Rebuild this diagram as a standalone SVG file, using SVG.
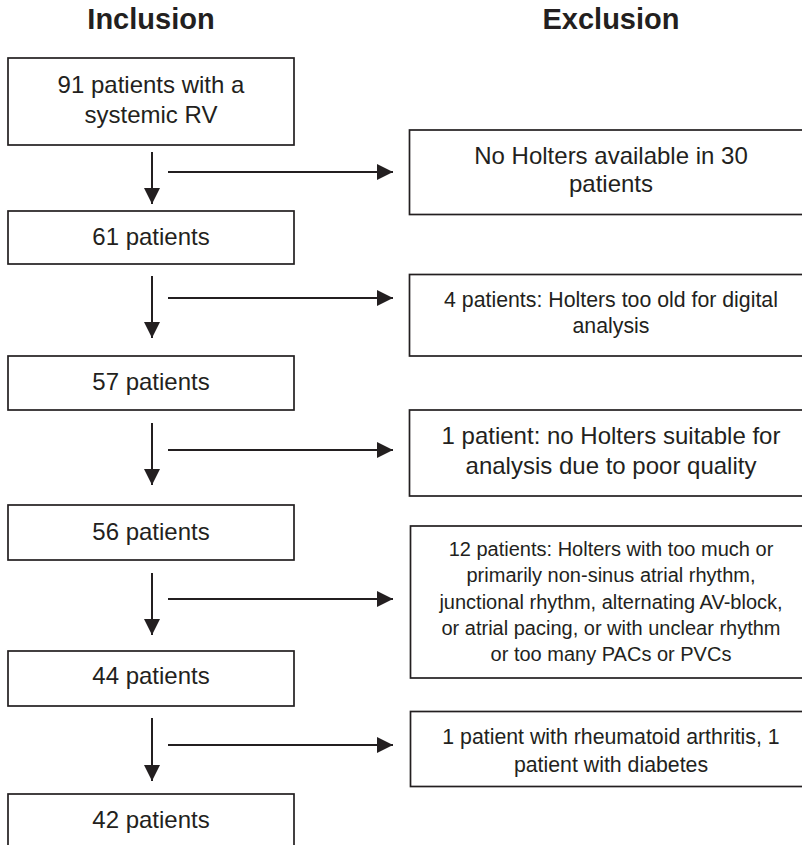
<svg xmlns="http://www.w3.org/2000/svg" width="802" height="845" viewBox="0 0 802 845">
<style>
.box{fill:#ffffff;stroke:#231f20;stroke-width:1.7}
.t{font-family:"Liberation Sans",Arial,sans-serif;fill:#231f20;text-anchor:middle}
.l{font-size:24px}
.s{font-size:21.3px}
.m{font-size:20px}
.h{font-size:29px;font-weight:bold}
.c{stroke:#231f20;stroke-width:2;fill:none;marker-end:url(#ah)}
</style>
<defs>
<marker id="ah" markerUnits="userSpaceOnUse" markerWidth="16" markerHeight="16" refX="16" refY="8" orient="auto">
<path d="M0,0 L16,8 L0,16 z" fill="#231f20"/>
</marker>
</defs>
<rect width="802" height="845" fill="#ffffff"/>
<text class="t h" x="151" y="29">Inclusion</text>
<text class="t h" x="611" y="29">Exclusion</text>

<g id="n91">
<rect class="box" x="8" y="58" width="286" height="87"/>
<text class="t l" x="151" y="93">91 patients with a</text>
<text class="t l" x="151" y="123">systemic RV</text>
</g>
<g id="n61">
<rect class="box" x="8" y="211" width="286" height="53"/>
<text class="t l" x="151" y="245">61 patients</text>
</g>
<g id="n57">
<rect class="box" x="8" y="356" width="286" height="54"/>
<text class="t l" x="151" y="390">57 patients</text>
</g>
<g id="n56">
<rect class="box" x="8" y="505" width="286" height="55"/>
<text class="t l" x="151" y="540">56 patients</text>
</g>
<g id="n44">
<rect class="box" x="8" y="651" width="286" height="55"/>
<text class="t l" x="151" y="684">44 patients</text>
</g>
<g id="n42">
<rect class="box" x="8" y="794" width="286" height="70"/>
<text class="t l" x="151" y="828">42 patients</text>
</g>

<g id="e30">
<rect class="box" x="409.5" y="130" width="404" height="84.5"/>
<text class="t l" x="611" y="164">No Holters available in 30</text>
<text class="t l" x="611" y="192">patients</text>
</g>
<g id="e4">
<rect class="box" x="409.5" y="274.5" width="404" height="81.5"/>
<text class="t s" x="611" y="306.5">4 patients: Holters too old for digital</text>
<text class="t s" x="611" y="333">analysis</text>
</g>
<g id="e1">
<rect class="box" x="409.5" y="410" width="404" height="86"/>
<text class="t l" x="611" y="443.5">1 patient: no Holters suitable for</text>
<text class="t l" x="611" y="473.5">analysis due to poor quality</text>
</g>
<g id="e12">
<rect class="box" x="410.5" y="526" width="404" height="152"/>
<text class="t m" x="611" y="556">12 patients: Holters with too much or</text>
<text class="t m" x="611" y="582.3">primarily non-sinus atrial rhythm,</text>
<text class="t m" x="611" y="608.6">junctional rhythm, alternating AV-block,</text>
<text class="t m" x="611" y="635">or atrial pacing, or with unclear rhythm</text>
<text class="t m" x="611" y="661.3">or too many PACs or PVCs</text>
</g>
<g id="e2">
<rect class="box" x="410.5" y="711.5" width="404" height="75"/>
<text class="t s" x="611" y="743.5">1 patient with rheumatoid arthritis, 1</text>
<text class="t s" x="611" y="771.5">patient with diabetes</text>
</g>

<g id="connectors">
<line class="c" x1="152" y1="152" x2="152" y2="204"/>
<line class="c" x1="168" y1="172" x2="393" y2="172"/>
<line class="c" x1="152" y1="276" x2="152" y2="338"/>
<line class="c" x1="168" y1="298" x2="393" y2="298"/>
<line class="c" x1="152" y1="423" x2="152" y2="485"/>
<line class="c" x1="168" y1="450" x2="393" y2="450"/>
<line class="c" x1="152" y1="573" x2="152" y2="635"/>
<line class="c" x1="168" y1="599" x2="393" y2="599"/>
<line class="c" x1="152" y1="718" x2="152" y2="781"/>
<line class="c" x1="168" y1="745" x2="393" y2="745"/>
</g>
</svg>
